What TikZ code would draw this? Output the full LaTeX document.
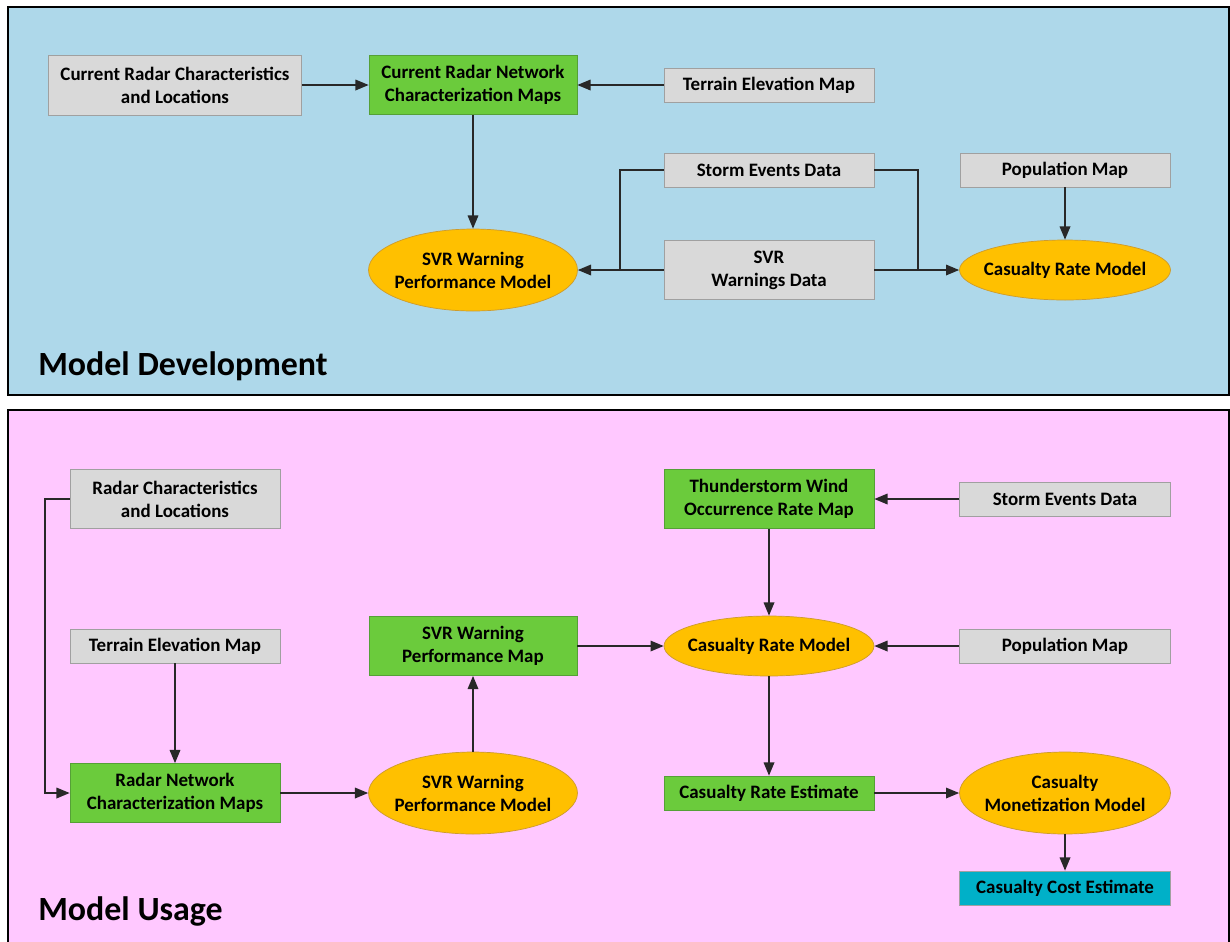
\documentclass[tikz,border=0pt]{standalone}
\usepackage{fontspec}
\setmainfont{Carlito}
\usetikzlibrary{arrows.meta,shapes.geometric}

\definecolor{panelblue}{RGB}{174,216,234}
\definecolor{panelpink}{RGB}{255,200,255}
\definecolor{boxgray}{RGB}{217,217,217}
\definecolor{boxgrayline}{RGB}{160,160,160}
\definecolor{boxgreen}{RGB}{107,203,60}
\definecolor{boxgreenline}{RGB}{85,160,55}
\definecolor{ellorange}{RGB}{255,192,0}
\definecolor{ellorangeline}{RGB}{205,155,45}
\definecolor{boxcyan}{RGB}{0,176,200}
\definecolor{linkgray}{RGB}{40,40,40}

\begin{document}
\begin{tikzpicture}[
    x=0.02cm, y=-0.02cm,
    panel/.style={draw=black, line width=1.2pt},
    boxtext/.style={font=\fontsize{10.8}{13}\selectfont\bfseries, align=center, inner sep=0pt},
    databox/.style={boxtext, rectangle, draw=boxgrayline, fill=boxgray, minimum width=4.2cm, minimum height=0.68cm},
    mapbox/.style={boxtext, rectangle, draw=boxgreenline, fill=boxgreen, minimum width=4.2cm, minimum height=1.18cm},
    modelell/.style={boxtext, ellipse, inner xsep=-5.5pt, draw=ellorangeline, fill=ellorange, minimum width=4.18cm, minimum height=1.64cm},
    costbox/.style={boxtext, rectangle, draw=boxgrayline, fill=boxcyan, minimum width=4.22cm, minimum height=0.68cm},
    link/.style={draw=linkgray, line width=0.9pt},
    arrow/.style={link, -{Triangle[length=7.5pt,width=6pt]}},
    paneltitle/.style={font=\fontsize{19.3}{22}\selectfont\bfseries, anchor=base west, inner sep=0pt}
]
    \useasboundingbox (0,0) rectangle (1230,941);

    % Panels
    \fill[white] (0,0) rectangle (1230,941);
    \filldraw[panel, fill=panelblue] (8,7) rectangle (1229,395);
    \filldraw[panel, fill=panelpink] (8,410) rectangle (1229,945);
    \node[paneltitle] (devtitle) at (38,375) {Model Development};
    \node[paneltitle] (usetitle) at (38,920) {Model Usage};

    % Model development
    \node[databox, minimum width=5.06cm, minimum height=1.2cm] (curchar) at (175,85) {Current Radar Characteristics\\and Locations};
    \node[mapbox, minimum width=4.16cm] (curmaps) at (473,85) {Current Radar Network\\Characterization Maps};
    \node[databox] (devterrain) at (769,85) {Terrain Elevation Map};
    \node[databox] (devstorm) at (769,170) {Storm Events Data};
    \node[databox] (devpop) at (1065,170) {Population Map};
    \node[modelell] (devsvr) at (473,270) {SVR Warning\\Performance Model};
    \node[databox, minimum height=1.18cm] (devwarn) at (769,270) {SVR\\Warnings Data};
    \node[modelell, minimum width=4.22cm, minimum height=1.2cm] (devcas) at (1065,270) {Casualty Rate Model};
    \coordinate (jleft) at (620,270);
    \coordinate (jright) at (918,270);

    \draw[arrow] (curchar) -- (curmaps);
    \draw[arrow] (devterrain) -- (curmaps);
    \draw[arrow] (curmaps) -- (devsvr);
    \draw[arrow] (devwarn) -- (devsvr);
    \draw[link] (devstorm.west) -| (jleft);
    \draw[arrow] (devwarn) -- (devcas);
    \draw[link] (devstorm.east) -| (jright);
    \draw[arrow] (devpop) -- (devcas);

    % Model usage
    \node[databox, minimum height=1.18cm] (radchar) at (175,499) {Radar Characteristics\\and Locations};
    \node[databox] (useterrain) at (175,646) {Terrain Elevation Map};
    \node[mapbox] (radmaps) at (175,793) {Radar Network\\Characterization Maps};
    \node[mapbox, minimum width=4.16cm] (svrmap) at (473,646) {SVR Warning\\Performance Map};
    \node[modelell] (usesvr) at (473,793) {SVR Warning\\Performance Model};
    \node[mapbox] (windmap) at (769,499) {Thunderstorm Wind\\Occurrence Rate Map};
    \node[databox, minimum width=4.22cm] (usestorm) at (1065,499) {Storm Events Data};
    \node[modelell, minimum width=4.2cm, minimum height=1.2cm] (usecas) at (769,646) {Casualty Rate Model};
    \node[databox, minimum width=4.22cm] (usepop) at (1065,646) {Population Map};
    \node[mapbox, minimum height=0.68cm] (casest) at (769,793) {Casualty Rate Estimate};
    \node[modelell, minimum width=4.22cm] (casmon) at (1065,793) {Casualty\\Monetization Model};
    \node[costbox] (cascost) at (1065,888) {Casualty Cost Estimate};
    \coordinate (rbend) at (45,499);

    \draw[arrow] (radchar.west) -- (rbend) |- (radmaps.west);
    \draw[arrow] (useterrain) -- (radmaps);
    \draw[arrow] (radmaps) -- (usesvr);
    \draw[arrow] (usesvr) -- (svrmap);
    \draw[arrow] (svrmap) -- (usecas);
    \draw[arrow] (usestorm) -- (windmap);
    \draw[arrow] (windmap) -- (usecas);
    \draw[arrow] (usepop) -- (usecas);
    \draw[arrow] (usecas) -- (casest);
    \draw[arrow] (casest) -- (casmon);
    \draw[arrow] (casmon) -- (cascost);
\end{tikzpicture}
\end{document}
